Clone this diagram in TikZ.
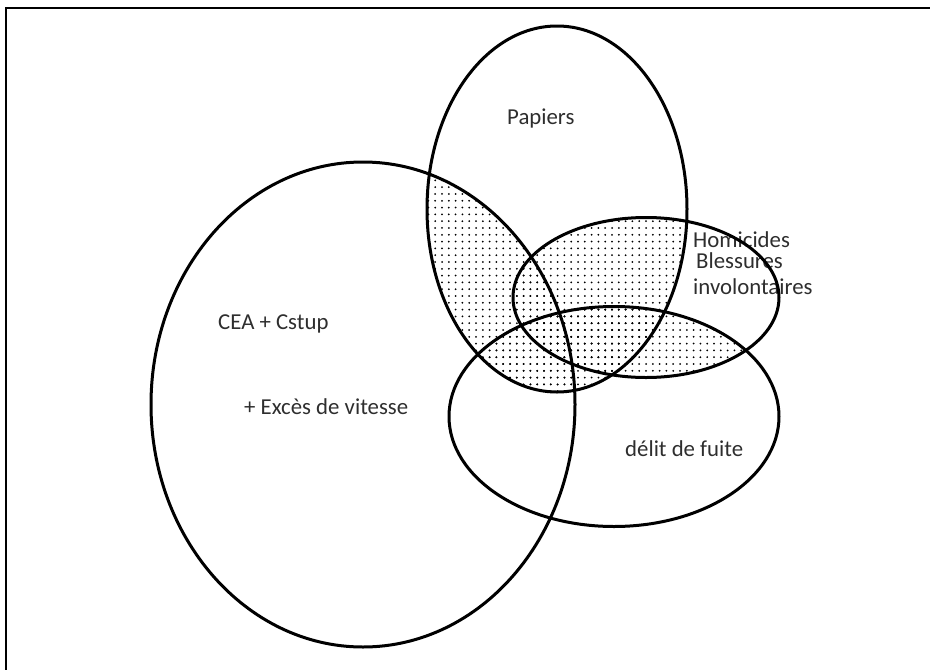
\documentclass[tikz,border=0pt]{standalone}
\usepackage{fontspec}
\setmainfont{Carlito}
\usetikzlibrary{patterns.meta}
\definecolor{Ink}{HTML}{2E2E2E}

\begin{document}
\begin{tikzpicture}[
  x=1pt,y=-1pt,
  set/.style={line width=3pt,draw=black},
  frame/.style={line width=2pt,draw=black},
  speckle/.style={pattern={Dots[distance=6.8pt,radius=1pt]}},
  lab/.style={anchor=base west,inner sep=0pt,text=Ink,font=\fontsize{22.8}{27}\selectfont},
  ceaR/.style={x radius=212pt,y radius=242.5pt},
  papR/.style={x radius=130pt,y radius=183pt},
  homR/.style={x radius=133pt,y radius=80pt},
  fuiteR/.style={x radius=165pt,y radius=110pt}
]
\useasboundingbox (0,0) rectangle (930,670);
\draw[frame] (6,670) -- (6,7.5) -- (930,7.5);

\coordinate (cea) at (363,404.5);
\coordinate (pap) at (557,209);
\coordinate (hom) at (646,297.5);
\coordinate (fuite) at (614,416.5);

% dotted overlaps
\begin{scope}
  \clip (pap) ellipse [papR];
  \fill[speckle] (cea) ellipse [ceaR];
  \fill[speckle] (hom) ellipse [homR];
  \fill[speckle] (fuite) ellipse [fuiteR];
\end{scope}
\begin{scope}
  \clip (hom) ellipse [homR];
  \fill[speckle] (fuite) ellipse [fuiteR];
\end{scope}

\node[lab] (papiers) at (507,124) {Papiers};
\node[lab] (homicides) at (693,247) {Homicides};
\node[lab] (blessures) at (696,268) {Blessures};
\node[lab] (invol) at (693,294) {involontaires};
\node[lab] (ceacstup) at (218,329) {CEA + Cstup};
\node[lab] (exces) at (244,414) {+ Excès de vitesse};
\node[lab] (delit) at (625,456) {délit de fuite};

\draw[set] (cea) ellipse [ceaR];
\draw[set] (pap) ellipse [papR];
\draw[set] (hom) ellipse [homR];
\draw[set] (fuite) ellipse [fuiteR];
\end{tikzpicture}
\end{document}
